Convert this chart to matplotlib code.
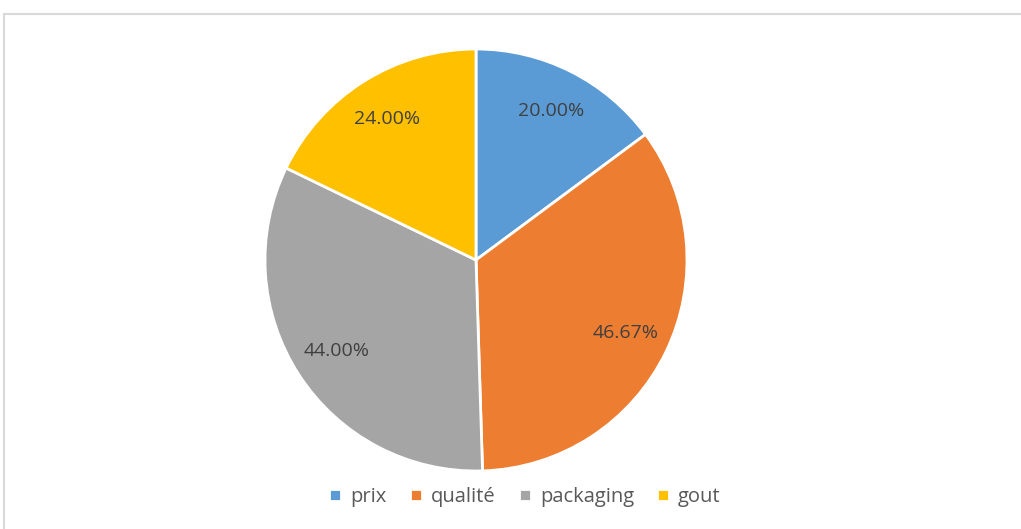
import matplotlib.pyplot as plt
from matplotlib.patches import Rectangle

labels = ['prix', 'qualité', 'packaging', 'gout']
values = [20.00, 46.67, 44.00, 24.00]
colors = ['#5B9BD5', '#ED7D31', '#A5A5A5', '#FFC000']

plt.rcParams['font.family'] = ['Open Sans', 'DejaVu Sans']

fig = plt.figure(figsize=(10.21, 5.29), dpi=100)

# chart area border (only top and left visible in the picture)
fig.patches.append(Rectangle((4 / 1021, -0.05), 1.1, (529 - 14) / 529 + 0.05,
                             transform=fig.transFigure, fill=False,
                             edgecolor='#D9D9D9', linewidth=1.5))

ax = fig.add_axes([(476 - 211) / 1021, (269 - 211) / 529, 422 / 1021, 422 / 529])
vals = iter(values)
wedges, texts, autotexts = ax.pie(
    values, colors=colors, startangle=90, counterclock=False,
    autopct=lambda p: '{:.2f}%'.format(next(vals)), pctdistance=0.79,
    wedgeprops=dict(edgecolor='white', linewidth=2),
    textprops=dict(color='#404040', fontsize=14))
ax.set_xlim(-1, 1)
ax.set_ylim(-1, 1)
ax.set_aspect('equal')

leg = fig.legend(wedges, labels, loc='center', bbox_to_anchor=(525 / 1021, 1 - 497 / 529),
                 ncol=4, frameon=False, fontsize=14.5, handlelength=0.6, handleheight=0.6,
                 handletextpad=0.45, columnspacing=1.15, labelcolor='#595959')

fig.savefig('out.png', dpi=100)
